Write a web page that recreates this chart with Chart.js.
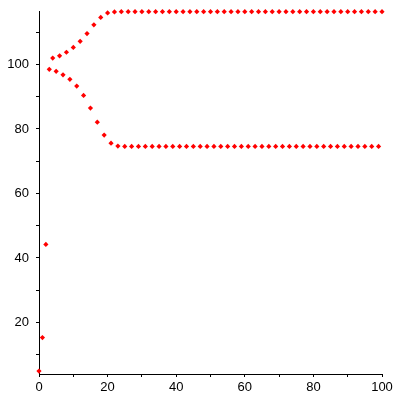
<!DOCTYPE html>
<html>
<head>
<meta charset="utf-8">
<script src="https://cdn.jsdelivr.net/npm/chart.js@4"></script>
<style>
  body { margin: 0; background: #fff; }
  canvas { display: block; }
</style>
</head>
<body>
<canvas id="plot" width="400" height="400"></canvas>
<script>
// iterate index and value
const xValues = [
  0, 1, 2, 3, 4, 5, 6, 7, 8, 9,
  10, 11, 12, 13, 14, 15, 16, 17, 18, 19,
  20, 21, 22, 23, 24, 25, 26, 27, 28, 29,
  30, 31, 32, 33, 34, 35, 36, 37, 38, 39,
  40, 41, 42, 43, 44, 45, 46, 47, 48, 49,
  50, 51, 52, 53, 54, 55, 56, 57, 58, 59,
  60, 61, 62, 63, 64, 65, 66, 67, 68, 69,
  70, 71, 72, 73, 74, 75, 76, 77, 78, 79,
  80, 81, 82, 83, 84, 85, 86, 87, 88, 89,
  90, 91, 92, 93, 94, 95, 96, 97, 98, 99,
  100
];
const yValues = [
  4.9, 15.3, 44.2, 98.5, 102.0, 97.9, 102.7, 96.8, 103.8, 95.4,
  105.3, 93.3, 107.2, 90.4, 109.6, 86.5, 112.3, 82.1, 114.6, 78.1,
  116.0, 75.6, 116.3, 74.7, 116.4, 74.6, 116.4, 74.6, 116.4, 74.6,
  116.4, 74.6, 116.4, 74.6, 116.4, 74.6, 116.4, 74.6, 116.4, 74.6,
  116.4, 74.6, 116.4, 74.6, 116.4, 74.6, 116.4, 74.6, 116.4, 74.6,
  116.4, 74.6, 116.4, 74.6, 116.4, 74.6, 116.4, 74.6, 116.4, 74.6,
  116.4, 74.6, 116.4, 74.6, 116.4, 74.6, 116.4, 74.6, 116.4, 74.6,
  116.4, 74.6, 116.4, 74.6, 116.4, 74.6, 116.4, 74.6, 116.4, 74.6,
  116.4, 74.6, 116.4, 74.6, 116.4, 74.6, 116.4, 74.6, 116.4, 74.6,
  116.4, 74.6, 116.4, 74.6, 116.4, 74.6, 116.4, 74.6, 116.4, 74.6,
  116.4
];

// ticks: every 10, labels every 20
const xTicks = [0, 10, 20, 30, 40, 50, 60, 70, 80, 90, 100];
const xTickLabels = ['0', '', '20', '', '40', '', '60', '', '80', '', '100'];
const yTicks = [10, 20, 30, 40, 50, 60, 70, 80, 90, 100, 110];
const yTickLabels = ['', '20', '', '40', '', '60', '', '80', '', '100', ''];

const points = xValues.map((x, i) => ({ x: x, y: yValues[i] }));

const tickFont = { family: 'Liberation Sans', size: 13 };

const axisCommon = {
    grid: { display: true, drawOnChartArea: false, drawTicks: true, tickLength: 3, color: '#000' },
    border: { display: true, color: '#000', width: 1 },
};

new Chart(document.getElementById('plot'), {
    type: 'scatter',
    data: {
        datasets: [{
            data: points,
            pointStyle: 'rectRot',
            pointRadius: 2.6,
            pointBackgroundColor: '#ff0000',
            pointBorderWidth: 0,
            showLine: false,
            clip: false
        }]
    },
    options: {
        responsive: false,
        animation: false,
        layout: { padding: { left: 0, right: 18, top: 11, bottom: 0 } },
        plugins: { legend: { display: false }, tooltip: { enabled: false } },
        scales: {
            x: {
                ...axisCommon,
                type: 'linear',
                min: 0,
                max: 100,
                afterBuildTicks: s => { s.ticks = xTicks.map(v => ({ value: v })); },
                afterFit: s => { s.height = 26; s.paddingLeft = 0; s.paddingRight = 0; },
                ticks: {
                    color: '#000',
                    font: tickFont,
                    padding: 3,
                    maxRotation: 0,
                    autoSkip: false,
                    callback: v => xTickLabels[xTicks.indexOf(v)]
                }
            },
            y: {
                ...axisCommon,
                type: 'linear',
                min: 4,
                max: 116.6,
                afterBuildTicks: s => { s.ticks = yTicks.map(v => ({ value: v })); },
                afterFit: s => { s.width = 39; s.paddingTop = 0; s.paddingBottom = 0; },
                ticks: {
                    color: '#000',
                    font: tickFont,
                    padding: 7,
                    autoSkip: false,
                    callback: v => yTickLabels[yTicks.indexOf(v)]
                }
            }
        }
    }
});
</script>
</body>
</html>
